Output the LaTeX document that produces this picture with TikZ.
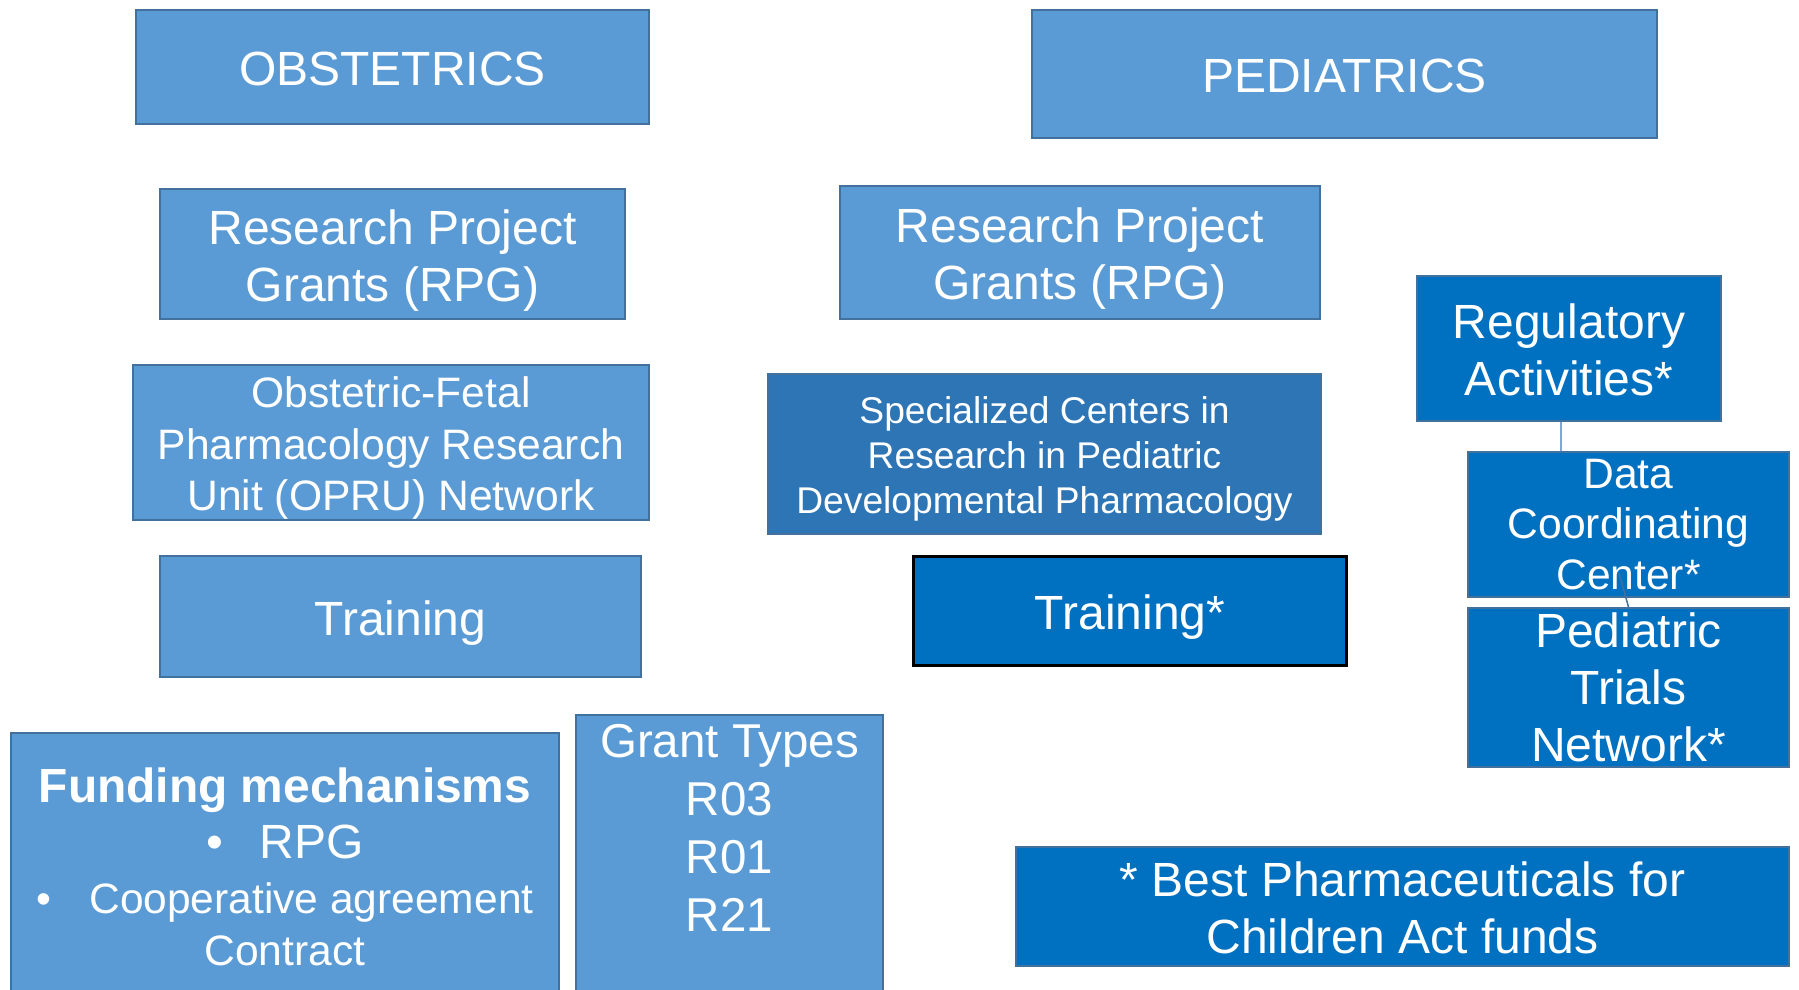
\documentclass[tikz,border=0pt]{standalone}
\usepackage{fontspec}
\setmainfont{Liberation Sans}
\usetikzlibrary{positioning}
\definecolor{PaleBlue}{HTML}{5B9BD5}
\definecolor{SteelEdge}{HTML}{41719C}
\definecolor{MidBlue}{HTML}{2E75B6}
\definecolor{DeepBlue}{HTML}{0070C0}
\definecolor{LinkBlue}{HTML}{7FA6D9}
\newcommand{\firstline}{\rule{0pt}{1em}}
\tikzset{
  block/.style={rectangle, anchor=north west, draw=SteelEdge, line width=2pt, text=white, align=center, inner sep=0pt},
  padded/.style={execute at begin node={\rule{0pt}{1em}}, execute at end node={\rule[-0.212em]{0pt}{0.212em}}},
  paleblock/.style={block, padded, fill=PaleBlue},
  midblock/.style={block, padded, fill=MidBlue},
  deepblock/.style={block, padded, fill=DeepBlue},
  tightblock/.style={block, fill=DeepBlue},
  bigtext/.style={font=\fontsize{48}{57}\selectfont},
}

\begin{document}
\begin{tikzpicture}[x=1pt, y=-1pt]
  \clip (0,0) rectangle (1799,989);
  \fill[white] (0,0) rectangle (1799,989);

  % Obstetrics column
  \node[paleblock, bigtext, minimum width=513pt, minimum height=114pt] (obst) at (135,9) {OBSTETRICS};
  \node[paleblock, bigtext, minimum width=465pt, minimum height=130pt] (rpgobst) at (159,188) {\firstline Research Project\\Grants (RPG)};
  \node[paleblock, font=\fontsize{42.6}{51.6}\selectfont, minimum width=516pt, minimum height=152pt] (opru) at (132,364) {\firstline Obstetric-Fetal\\Pharmacology Research\\Unit (OPRU) Network};
  \node[paleblock, bigtext, minimum width=481pt, minimum height=121pt] (trainobst) at (159,555) {Training};

  % Funding mechanisms and grant types
  \node[paleblock, font=\fontsize{42.5}{57}\selectfont, minimum width=548pt, minimum height=264pt] (funding) at (10,732)
    {{\fontsize{47.9}{56}\selectfont\bfseries\firstline Funding mechanisms}\\[-1pt]
     {\fontsize{48}{57}\selectfont\makebox[53pt][l]{\textbullet}RPG}\\[-2pt]
     \makebox[53pt][l]{\textbullet}Cooperative agreement\\[-5pt]
     {\fontsize{42.6}{50}\selectfont Contract}};
  \node[paleblock, minimum width=307pt, minimum height=290pt] (grant) at (575,714) {};
  \node[font=\fontsize{47.5}{58}\selectfont, text=white, align=center, anchor=north, inner sep=0pt] (grantlist) at ([yshift=-10pt]grant.north) {Grant Types\\R03\\R01\\R21};

  % Pediatrics column
  \node[paleblock, bigtext, minimum width=625pt, minimum height=128pt] (pedi) at (1031,9) {PEDIATRICS};
  \node[paleblock, bigtext, minimum width=480pt, minimum height=133pt] (rpgpedi) at (839,185) {\firstline Research Project\\Grants (RPG)};
  \node[midblock, font=\fontsize{37.2}{44.7}\selectfont, minimum width=553pt, minimum height=160pt] (spec) at (767,373) {\firstline Specialized Centers in\\Research in Pediatric\\Developmental Pharmacology};
  \node[deepblock, bigtext, draw=black, line width=3pt, minimum width=433pt, minimum height=109pt] (trainpedi) at (912,555) {Training*};

  % BPCA activities
  \node[deepblock, bigtext, minimum width=304pt, minimum height=145pt] (reg) at (1416,275) {\firstline Regulatory\\Activities*};
  \node[tightblock, font=\fontsize{42.6}{50.5}\selectfont, minimum width=321pt, minimum height=145pt] (dcc) at (1467,451) {Data\\Coordinating\\Center*};
  \node[tightblock, bigtext, minimum width=321pt, minimum height=159pt] (ptn) at (1467,607) {Pediatric\\Trials\\Network*};
  \node[deepblock, bigtext, minimum width=773pt, minimum height=119pt] (bpca) at (1015,846) {\firstline * Best Pharmaceuticals for\\Children Act funds};

  % Links
  \draw[LinkBlue, line width=2pt] ([xshift=-8pt]reg.south) -- ([xshift=-8pt]reg.south |- dcc.north);
  \coordinate (dccmark) at (1619,573);
  \draw[SteelEdge, line width=1.5pt] (dccmark) -- (ptn.north);
\end{tikzpicture}
\end{document}
